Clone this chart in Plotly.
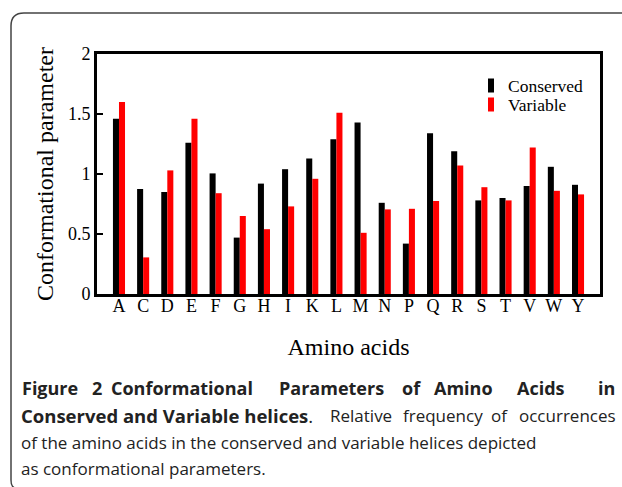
import plotly.graph_objects as go

amino_acids = ["A", "C", "D", "E", "F", "G", "H", "I", "K", "L",
               "M", "N", "P", "Q", "R", "S", "T", "V", "W", "Y"]
conserved = [1.46, 0.875, 0.85, 1.26, 1.005, 0.47, 0.92, 1.04, 1.13, 1.29,
             1.43, 0.76, 0.42, 1.34, 1.19, 0.78, 0.80, 0.90, 1.06, 0.91]
variable = [1.60, 0.305, 1.03, 1.46, 0.84, 0.65, 0.54, 0.73, 0.96, 1.51,
            0.51, 0.705, 0.71, 0.775, 1.07, 0.89, 0.78, 1.22, 0.86, 0.83]
y_ticks = [0, 0.5, 1, 1.5, 2]
y_tick_labels = ["0", "0.5", "1", "1.5", "2"]

W, H = 622, 487
L, R, T, B = 97, 600, 54, 294


def px(x):
    return (x - L) / (R - L)


def py(y):
    return (B - y) / (B - T)


SERIF = "Liberation Serif"
SANS = "Open Sans"
CAP_COLOR = "#222222"

x_pos = list(range(len(amino_acids)))

fig = go.Figure()
fig.add_trace(go.Bar(x=x_pos, y=conserved, name="Conserved",
                     marker=dict(color="black", line=dict(width=0))))
fig.add_trace(go.Bar(x=x_pos, y=variable, name="Variable",
                     marker=dict(color="#ff0000", line=dict(width=0))))

shapes = []
annotations = []

# outer figure frame (rounded top-left corner)
path = (f"M {px(640)} {py(13)} L {px(24)} {py(13)} "
        f"Q {px(11)} {py(13)} {px(11)} {py(26)} "
        f"L {px(11)} {py(480)} Q {px(11)} {py(487)} {px(15)} {py(488)}")
shapes.append(dict(type="path", xref="paper", yref="paper", path=path,
                   line=dict(color="#444444", width=1.5)))

# legend
legend_items = [("Conserved", "black", 85.5), ("Variable", "#ff0000", 104.5)]
for label, col, yc in legend_items:
    shapes.append(dict(type="rect", xref="paper", yref="paper",
                       x0=px(488), x1=px(494), y0=py(yc - 7), y1=py(yc + 7),
                       fillcolor=col, line=dict(width=0)))
    annotations.append(dict(text=label, xref="paper", yref="paper",
                            x=px(507), y=py(yc), xanchor="left", yanchor="middle",
                            showarrow=False, borderpad=0, height=17,
                            font=dict(family=SERIF, size=17.5, color="black")))


def cap(text, x, y, anchor="left", size=17):
    annotations.append(dict(text=text, xref="paper", yref="paper",
                            x=px(x), y=py(y), xanchor=anchor, yanchor="middle",
                            showarrow=False, borderpad=0,
                            font=dict(family=SANS, size=size, color=CAP_COLOR)))


# caption, line 1 justified word by word
line1_words = [("Figure", 21), ("2", 91), ("Conformational", 110),
               ("Parameters", 278), ("of", 401), ("Amino", 433),
               ("Acids", 516)]
for word, xw in line1_words:
    cap(f"<b>{word}</b>", xw, 388, size=18)
cap("<b>in</b>", 616, 388, "right", size=18)

# line 2 justified
cap("<b>Conserved and Variable helices</b>.", 20, 415, size=18.5)
cap("Relative", 329, 415)
cap("frequency", 402, 415)
cap("of", 490, 415)
cap("occurrences", 617, 415, "right")

cap("of the amino acids in the conserved and variable helices depicted", 20, 442)
cap("as conformational parameters.", 20, 469)

fig.update_layout(
    width=W, height=H,
    margin=dict(l=L, r=W - R, t=T, b=H - B, pad=0, autoexpand=False),
    paper_bgcolor="white", plot_bgcolor="white",
    barmode="group", bargap=0.5, bargroupgap=0,
    showlegend=False,
    shapes=shapes, annotations=annotations,
    xaxis=dict(
        range=[-0.91, 19.91], tickmode="array", tickvals=x_pos, ticktext=amino_acids,
        showgrid=False, zeroline=False, ticks="", automargin=False,
        ticklabelstandoff=-7,
        showline=True, linecolor="black", linewidth=3, mirror=True,
        tickfont=dict(family=SERIF, size=18, color="black"),
        title=dict(text="Amino acids", standoff=24,
                   font=dict(family=SERIF, size=24, color="black")),
    ),
    yaxis=dict(
        range=[0, 2], tickmode="array", tickvals=y_ticks, ticktext=y_tick_labels,
        showgrid=False, zeroline=False, ticks="inside", ticklen=6, tickwidth=2,
        tickcolor="black", automargin=False,
        showline=True, linecolor="black", linewidth=3, mirror=True,
        tickfont=dict(family=SERIF, size=18, color="black"),
        title=dict(text="Conformational parameter", standoff=8,
                   font=dict(family=SERIF, size=24, color="black")),
    ),
)

fig.write_html("out.html", config={"displayModeBar": False},
               post_script="document.body.style.margin='0';document.body.style.padding='0';")
